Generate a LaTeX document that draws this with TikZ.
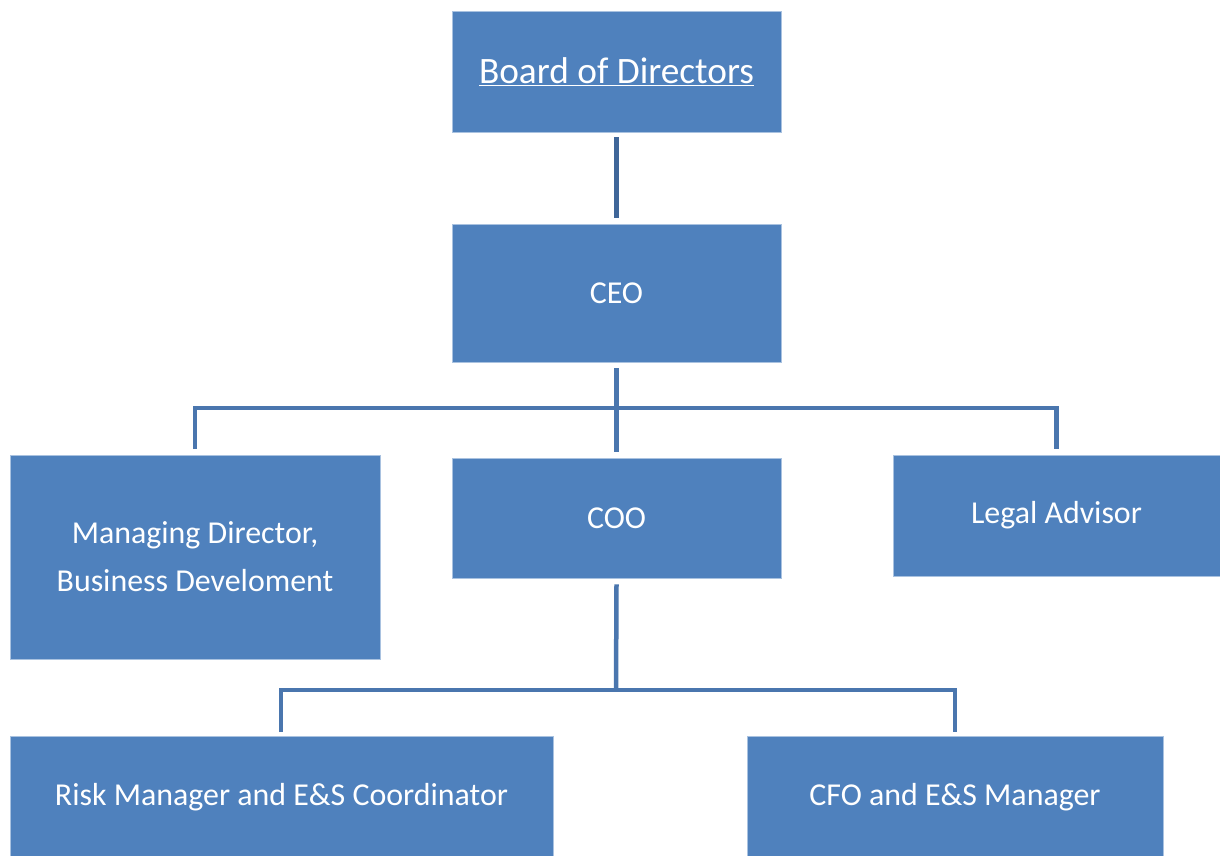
\documentclass[tikz,border=0pt]{standalone}
\usepackage{fontspec}
\setmainfont{Carlito}
\begin{document}
\begin{tikzpicture}[x=1pt,y=-1pt,
  unit/.style={fill=boxblue, draw=boxedge, line width=0.8pt, text=white, align=center,
    font=\fontsize{31.9}{48}\selectfont, inner sep=0pt},
  link/.style={draw=linkblue, line width=4.5pt},
]
\definecolor{boxblue}{HTML}{4F81BD}
\definecolor{boxedge}{HTML}{A9C2E0}
\definecolor{linkblue}{HTML}{4A76AE}
\definecolor{linkdark}{HTML}{3F6699}
\useasboundingbox (0,0) rectangle (1220,855);
% boxes
\node[unit, minimum width=329, minimum height=121, font=\fontsize{37.3}{44}\selectfont] (board) at (616.5,71.5)
  {\underline{Board of Directors}};
\node[unit, minimum width=329, minimum height=138] (ceo) at (616.5,293) {CEO};
\node[unit, minimum width=370, minimum height=204] (md) at (195,557)
  {Managing Director,\\Business Develoment};
\node[unit, minimum width=329, minimum height=120] (coo) at (616.5,518) {COO};
\node[unit, minimum width=327, minimum height=121] (legal) at (1056.5,515.5) {Legal Advisor};
\node[unit, minimum width=543, minimum height=122] (risk) at (281.5,797) {Risk Manager and E\&S Coordinator};
\node[unit, minimum width=416, minimum height=122] (cfo) at (955,797) {CFO and E\&S Manager};
% junction points of the connector bars
\coordinate (j1) at (616,408);
\coordinate (j2) at (616,690);
% connectors (a small gap is left at each box edge)
\draw[link, draw=linkdark] ([yshift=-5pt]board.south) -- ([yshift=6pt]ceo.north);
\draw[link] ([yshift=-6pt]ceo.south) -- ([yshift=6pt]coo.north);
\draw[link] (md.north |- 0,449) |- (j1) -| (legal.north |- 0,449);
\draw[link] ([yshift=-6pt]coo.south) -- (j2);
\draw[link] (281,732) |- (j2) -| (955,732);
\end{tikzpicture}
\end{document}
